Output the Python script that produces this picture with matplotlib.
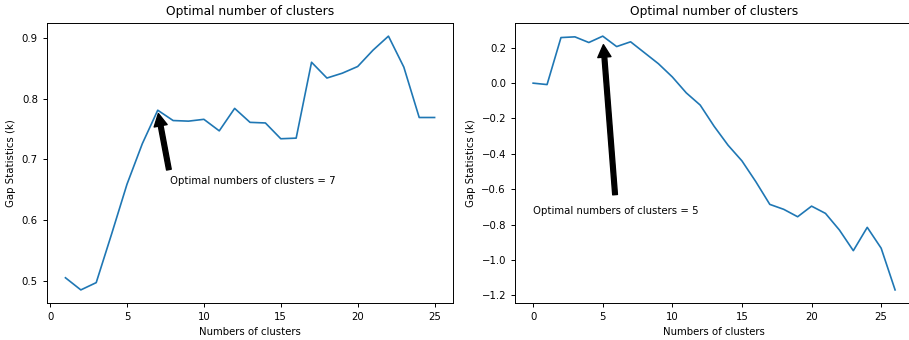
import matplotlib
matplotlib.use("Agg")
import matplotlib.pyplot as plt

# Gap statistic curves for two clusterings
k_left = list(range(1, 26))
gap_left = [0.505, 0.485, 0.497, 0.577, 0.659, 0.726, 0.781, 0.764, 0.763, 0.766,
            0.747, 0.784, 0.761, 0.760, 0.734, 0.735, 0.860, 0.834, 0.842, 0.853,
            0.880, 0.903, 0.852, 0.769, 0.769]
best_left = 7

k_right = list(range(0, 27))
gap_right = [0.000, -0.008, 0.258, 0.262, 0.230, 0.266, 0.207, 0.234, 0.172, 0.110,
             0.035, -0.055, -0.124, -0.244, -0.351, -0.440, -0.558, -0.686, -0.714,
             -0.756, -0.696, -0.737, -0.831, -0.948, -0.816, -0.934, -1.170]
best_right = 5

plt.rcParams["font.size"] = 7.3

fig = plt.figure(figsize=(9.09, 3.4), dpi=100)
ax1 = fig.add_axes([0.0517, 0.110, 0.4467, 0.821])
ax2 = fig.add_axes([0.5666, 0.110, 0.4380, 0.821])

arrow = dict(facecolor="black", shrink=0.05, width=3.4, headwidth=9.5, headlength=9)

ax1.plot(k_left, gap_left, lw=1.2)
ax1.annotate(f"Optimal numbers of clusters = {best_left}",
             xy=(best_left, gap_left[k_left.index(best_left)]),
             xytext=(7.8, 0.66), arrowprops=arrow)

ax2.plot(k_right, gap_right, lw=1.2)
ax2.annotate(f"Optimal numbers of clusters = {best_right}",
             xy=(best_right, gap_right[k_right.index(best_right)]),
             xytext=(0, -0.74), arrowprops=arrow)

for ax in (ax1, ax2):
    ax.set_title("Optimal number of clusters", fontsize=8.8)
    ax.set_xlabel("Numbers of clusters")
    ax.set_ylabel("Gap Statistics (k)")
    ax.tick_params(length=3, width=0.7)
    for s in ax.spines.values():
        s.set_linewidth(0.7)

fig.savefig("out.png", dpi=100)
